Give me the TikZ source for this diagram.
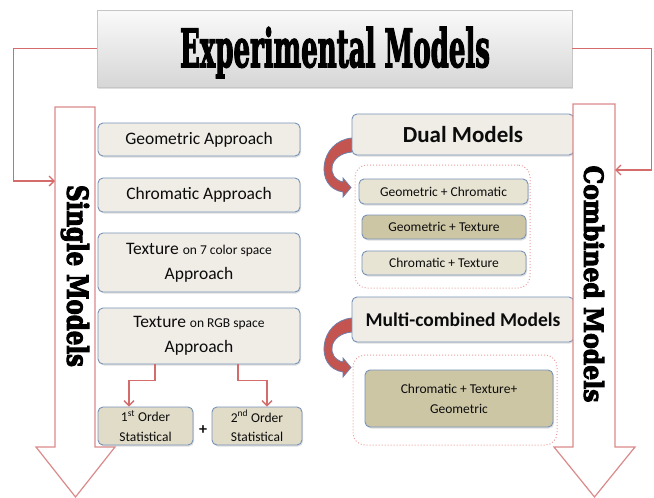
\documentclass[tikz,border=0pt]{standalone}
\usepackage{fontspec}
\setmainfont{Carlito}
\newfontfamily\headfont{DejaVu Serif Condensed}[BoldFeatures={FakeBold=3}]
\newfontfamily\bandfont{DejaVu Serif Condensed}[BoldFeatures={FakeBold=3.5}]
\usetikzlibrary{arrows.meta,shadows}

\definecolor{linkred}{RGB}{212,108,108}
\definecolor{bandred}{RGB}{218,138,138}
\definecolor{boxedge}{RGB}{118,146,184}
\definecolor{boxfill}{RGB}{240,237,231}
\definecolor{tanlight}{RGB}{232,228,212}
\definecolor{tanmid}{RGB}{225,220,200}
\definecolor{tandark}{RGB}{205,198,165}
\definecolor{dotpink}{RGB}{235,160,160}
\definecolor{curvefill}{RGB}{196,84,80}
\definecolor{curveedge}{RGB}{112,128,168}
\definecolor{ink}{RGB}{12,12,12}

\newcommand\apsize{\fontsize{17.5}{25}\selectfont}
\newcommand\smsize{\fontsize{13.5}{25}\selectfont}
\newcommand\ordsize{\fontsize{13.5}{19.5}\selectfont}
\newcommand\pairsize{\fontsize{13.5}{20}\selectfont}
\newcommand\dualsize{\fontsize{23}{26}\selectfont}
\newcommand\multisize{\fontsize{19.5}{22}\selectfont}

\tikzset{
  panel/.style={draw=boxedge, line width=0.9pt, fill=boxfill, rounded corners=5pt,
    inner sep=0pt, text=ink,
    drop shadow={opacity=0.25, shadow xshift=1pt, shadow yshift=-1.5pt}},
  tanpanel/.style={panel, fill=tandark},
  midpanel/.style={panel, fill=tanmid},
  lightpanel/.style={panel, fill=tanlight},
  grouprim/.style={draw=dotpink, dotted, line width=1pt, rounded corners=12pt, inner sep=0pt},
  link/.style={draw=linkred, line width=1.3pt, -{Straight Barb[length=5pt,width=10pt]}},
  band/.style={draw=bandred, line width=1.2pt, fill=white},
  hookarrow/.pic={
    \draw[fill=curvefill, draw=curveedge, line width=0.8pt]
      (0,0) .. controls (-33,3) and (-38,50) .. (-9,54) -- (-9,59) -- (-1,49.5)
      -- (-9,40) -- (-9,44) .. controls (-26,40) and (-24,16) .. (0,14) -- cycle;
  }
}

\begin{document}
\begin{tikzpicture}[x=1pt,y=-1pt]
\useasboundingbox (0,0) rectangle (654,498);

% title banner
\node[draw=gray!45, line width=0.6pt, top color=gray!4, bottom color=gray!32,
      minimum width=475pt, minimum height=77pt, inner sep=0pt,
      drop shadow={opacity=0.25, shadow xshift=1pt, shadow yshift=-2pt}]
      (title) at (334.5,48.5) {};
\node[anchor=base, inner sep=0pt, text=black] (titletext) at (335,67)
      {\resizebox{310pt}{40pt}{\headfont\bfseries Experimental Models}};

% single approaches
\node[panel, minimum width=202pt, minimum height=33pt, font=\apsize] (geo) at (199,139.5) {Geometric Approach};
\node[panel, minimum width=202pt, minimum height=34pt, font=\apsize] (chrom) at (199,195) {Chromatic Approach};
\node[panel, minimum width=202pt, minimum height=59pt, font=\apsize, align=center] (tex7) at (199,262.5)
      {Texture {\smsize on 7 color space}\\Approach};
\node[panel, minimum width=202pt, minimum height=56pt, font=\apsize, align=center] (texrgb) at (199,336)
      {Texture {\smsize on RGB space}\\Approach};
\node[midpanel, minimum width=95pt, minimum height=38pt, font=\ordsize, align=center] (ord1) at (145.5,426)
      {1\textsuperscript{st} Order\\Statistical};
\node[midpanel, minimum width=90pt, minimum height=38pt, font=\ordsize, align=center] (ord2) at (257,426)
      {2\textsuperscript{nd} Order\\Statistical};
\node[font=\fontsize{16}{16}\selectfont\bfseries, text=ink] (plus) at (203,430) {+};

\draw[link] ([xshift=-44pt]texrgb.south) -- ++(0,16) -| ([xshift=-16.5pt]ord1.north);
\draw[link] ([xshift=39pt]texrgb.south) -- ++(0,16) -| ([xshift=10pt]ord2.north);

% dual models
\node[grouprim, minimum width=175pt, minimum height=123pt] (dualgrp) at (442.5,226.5) {};
\node[lightpanel, minimum width=169pt, minimum height=25pt, font=\pairsize] (gc) at (443.5,191.5) {Geometric + Chromatic};
\node[tanpanel, minimum width=164pt, minimum height=24pt, font=\pairsize] (gt) at (444,227) {Geometric + Texture};
\node[lightpanel, minimum width=164pt, minimum height=24pt, font=\pairsize] (ct) at (444,263) {Chromatic + Texture};
\pic at (352,138) {hookarrow};
\node[panel, minimum width=222pt, minimum height=41pt, font=\dualsize\bfseries] (dualhead) at (463,134.5) {Dual Models};

% multi-combined models
\node[grouprim, minimum width=204pt, minimum height=90pt] (multigrp) at (455,400) {};
\node[tanpanel, minimum width=188pt, minimum height=57pt, font=\pairsize, align=center] (cmt) at (459,398.5)
      {Chromatic + Texture+\\Geometric};
\pic at (352,318) {hookarrow};
\node[panel, minimum width=222pt, minimum height=45pt, font=\multisize\bfseries] (multihead) at (463,319.5) {Multi-combined Models};

% the two downward block arrows
\draw[band] (55,107) -- (95,107) -- (95,447) -- (115,447) -- (75.5,497) -- (36,447) -- (55,447) -- cycle;
\draw[band] (573,104) -- (615,104) -- (615,447) -- (635,447) -- (594.5,497) -- (554,447) -- (573,447) -- cycle;
\coordinate (singlein) at (55,181);
\coordinate (combin) at (615,170);
\node[rotate=-90, inner sep=0pt] (singlelabel) at (75,276)
      {\resizebox{182pt}{22pt}{\bandfont\bfseries Single Models}};
\node[rotate=-90, inner sep=0pt] (comblabel) at (594,284)
      {\resizebox{237pt}{20pt}{\bandfont\bfseries Combined Models}};

% links from the banner
\draw[link] (title.west) -- ++(-83,0) |- (singlein);
\draw[link] (title.east) -- ++(79,0) |- (combin);
\end{tikzpicture}
\end{document}
